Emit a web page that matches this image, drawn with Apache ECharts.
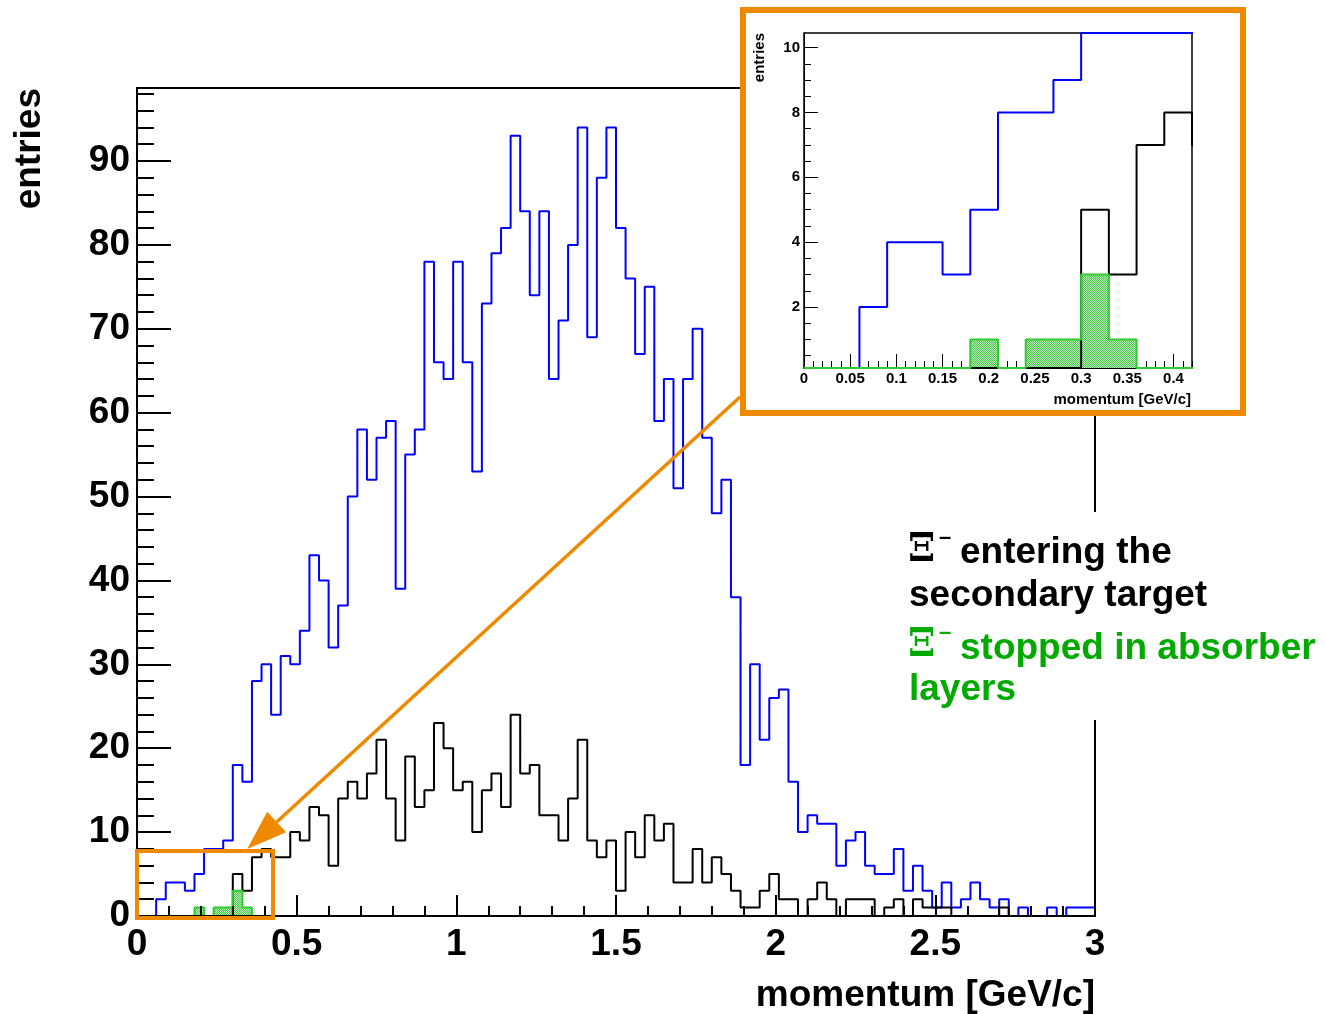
<!DOCTYPE html>
<html>
<head>
<meta charset="utf-8">
<title>Xi- momentum</title>
<script src="https://cdn.jsdelivr.net/npm/echarts@6/dist/echarts.min.js"></script>
<style>
  html, body { margin: 0; padding: 0; background: #ffffff; }
  #chart { width: 1325px; height: 1014px; }
</style>
</head>
<body>
<div id="chart"></div>
<script>
// ---- histogram binning (GeV/c) ----
const BIN_WIDTH = 0.03;
const X_MIN = 0;
const X_MAX = 3;

// ---- counts per 0.03 GeV/c bin, 0 .. 3 GeV/c ----
// all produced Xi- (blue)
const xiAll = [
  0, 0, 2, 4, 4, 3, 5, 8, 8, 9,
  18, 16, 28, 30, 24, 31, 30, 34, 43, 40,
  32, 37, 50, 58, 52, 57, 59, 39, 55, 58,
  78, 66, 64, 78, 66, 53, 73, 79, 82, 93,
  84, 74, 84, 64, 71, 80, 94, 69, 88, 94,
  82, 76, 67, 75, 59, 64, 51, 64, 70, 57,
  48, 52, 38, 18, 30, 21, 26, 27, 16, 10,
  12, 11, 11, 6, 9, 10, 6, 5, 5, 8,
  3, 6, 3, 1, 4, 1, 2, 4, 2, 1,
  2, 0, 1, 0, 0, 1, 0, 1, 1, 1
];
// Xi- entering the secondary target (black)
const xiEntering = [
  0, 0, 0, 0, 0, 0, 0, 0, 0, 0,
  5, 3, 7, 8, 7, 7, 10, 9, 13, 12,
  6, 14, 16, 14, 17, 21, 14, 9, 19, 13,
  15, 23, 20, 15, 16, 10, 15, 17, 13, 24,
  17, 18, 12, 12, 9, 14, 21, 9, 7, 9,
  3, 10, 7, 12, 9, 11, 4, 4, 8, 4,
  7, 5, 3, 1, 1, 3, 5, 2, 2, 0,
  2, 4, 2, 0, 2, 2, 2, 0, 1, 2,
  0, 2, 1, 1, 1, 0, 0, 0, 0, 0,
  1, 0, 0, 0, 0, 0, 0, 0, 0, 0
];
// Xi- stopped in absorber layers (green)
const xiStopped = [
  0, 0, 0, 0, 0, 0, 1, 0, 1, 1,
  3, 1, 0, 0, 0, 0, 0, 0, 0, 0,
  0, 0, 0, 0, 0, 0, 0, 0, 0, 0,
  0, 0, 0, 0, 0, 0, 0, 0, 0, 0,
  0, 0, 0, 0, 0, 0, 0, 0, 0, 0,
  0, 0, 0, 0, 0, 0, 0, 0, 0, 0,
  0, 0, 0, 0, 0, 0, 0, 0, 0, 0,
  0, 0, 0, 0, 0, 0, 0, 0, 0, 0,
  0, 0, 0, 0, 0, 0, 0, 0, 0, 0,
  0, 0, 0, 0, 0, 0, 0, 0, 0, 0
];

// ---- axis ranges and tick labels ----
const MAIN_Y_MAX = 98.7;
const mainXLabels = [0, 0.5, 1, 1.5, 2, 2.5, 3];
const mainYLabels = [0, 10, 20, 30, 40, 50, 60, 70, 80, 90];

const INSET_X_MAX = 0.42;
const INSET_Y_MIN = 0.12;
const INSET_Y_MAX = 10.45;
const insetXLabels = [0, 0.05, 0.1, 0.15, 0.2, 0.25, 0.3, 0.35, 0.4];
const insetYLabels = [2, 4, 6, 8, 10];

// ---- styling ----
const SANS = '"Liberation Sans", Arial, Helvetica, sans-serif';
const SERIF = '"DejaVu Serif", "Liberation Serif", serif';
const ORANGE = '#ef8a00';
const BLUE = '#0000ff';
const BLACK = '#000000';
const GREEN_LINE = '#2ecc2e';
const GREEN_TEXT = '#00aa00';

// minor tick positions (regular subdivisions of each axis)
function steps(from, to, step) {
  const out = [];
  const n = Math.round((to - from) / step);
  for (let i = 0; i <= n; i++) out.push(+(from + i * step).toFixed(4));
  return out;
}
const mainXMinor = steps(0, 3, 0.1);
const mainYMinor = steps(0, 98, 2);
const insetXMinor = steps(0, 0.42, 0.01);
const insetYMinor = steps(0.5, 10, 0.5);

// histogram outline points: one point per bin low edge, closed at X_MAX
function histSteps(counts, lo, hi) {
  const clampV = v => {
    if (lo != null && v < lo) return lo;
    if (hi != null && v > hi) return hi;
    return v;
  };
  const pts = counts.map((v, i) => [+(X_MIN + i * BIN_WIDTH).toFixed(4), clampV(v)]);
  pts.push([X_MAX, pts[pts.length - 1][1]]);
  return pts;
}

// dotted fill used for the green histogram
function dotPattern() {
  const c = document.createElement('canvas');
  c.width = 2; c.height = 2;
  const g = c.getContext('2d');
  g.fillStyle = '#c4ecc4'; g.fillRect(0, 0, 2, 2);
  g.fillStyle = '#46c846'; g.fillRect(0, 0, 1, 1); g.fillRect(1, 1, 1, 1);
  return c;
}
const greenFill = { image: dotPattern(), repeat: 'repeat' };

function stepLine(name, data, color, xi, yi, z, width, extra) {
  return Object.assign({
    type: 'line', name, data,
    xAxisIndex: xi, yAxisIndex: yi,
    step: 'end', symbol: 'none', showSymbol: false,
    lineStyle: { color, width },
    itemStyle: { color },
    clip: true, silent: true, animation: false, z
  }, extra || {});
}

function labelStyle(size, margin) {
  return { color: '#000', fontSize: size, fontWeight: 'bold', fontFamily: SANS, margin };
}

function tickAxis(gridIndex, min, max, position, values, len, width, z, withLine, labels, labelSize, labelMargin) {
  return {
    type: 'value', gridIndex, min, max, position, z,
    axisLine: { show: withLine, onZero: false, lineStyle: { color: '#000', width } },
    axisTick: { show: true, inside: true, length: len, customValues: values, lineStyle: { color: '#000', width } },
    axisLabel: labels
      ? Object.assign({ show: true, customValues: labels }, labelStyle(labelSize, labelMargin))
      : { show: false },
    splitLine: { show: false },
    minorTick: { show: false }
  };
}

const chart = echarts.init(document.getElementById('chart'), null, { renderer: 'canvas' });

const option = {
  animation: false,
  backgroundColor: '#ffffff',
  grid: [
    { left: 137, top: 88, width: 958, height: 828, show: true, borderColor: '#000', borderWidth: 2,
      backgroundColor: 'transparent', containLabel: false, outerBoundsMode: 'none', z: 0 },
    { left: 804, top: 33, width: 388, height: 335, show: true, borderColor: '#000', borderWidth: 1.5,
      backgroundColor: '#ffffff', containLabel: false, outerBoundsMode: 'none', z: 29 }
  ],
  xAxis: [
    tickAxis(0, X_MIN, X_MAX, 'bottom', mainXLabels, 21, 2, 3, true, mainXLabels, 37, 10),
    tickAxis(0, X_MIN, X_MAX, 'bottom', mainXMinor, 10, 2, 3, false, null),
    tickAxis(1, 0, INSET_X_MAX, 'bottom', insetXLabels, 14, 1, 30, true, insetXLabels, 15, 3),
    tickAxis(1, 0, INSET_X_MAX, 'bottom', insetXMinor, 7, 1, 30, false, null)
  ],
  yAxis: [
    tickAxis(0, 0, MAIN_Y_MAX, 'left', mainYLabels, 34, 2, 3, true, mainYLabels, 37, 7),
    tickAxis(0, 0, MAIN_Y_MAX, 'left', mainYMinor, 17, 2, 3, false, null),
    tickAxis(1, INSET_Y_MIN, INSET_Y_MAX, 'left', insetYLabels, 14, 1, 30, true, insetYLabels, 15, 4),
    tickAxis(1, INSET_Y_MIN, INSET_Y_MAX, 'left', insetYMinor, 7, 1, 30, false, null)
  ],
  series: [
    // full range
    stepLine('all', histSteps(xiAll), BLUE, 0, 0, 2, 2),
    stepLine('entering', histSteps(xiEntering), BLACK, 0, 0, 2, 2),
    stepLine('stopped', histSteps(xiStopped), GREEN_LINE, 0, 0, 2, 2,
      { areaStyle: { color: greenFill, opacity: 1 } }),
    // zoom on the low-momentum region
    stepLine('all-zoom', histSteps(xiAll, INSET_Y_MIN, INSET_Y_MAX), BLUE, 2, 2, 31, 2),
    stepLine('entering-zoom', histSteps(xiEntering, INSET_Y_MIN, INSET_Y_MAX), BLACK, 2, 2, 31, 2),
    stepLine('stopped-zoom', histSteps(xiStopped, INSET_Y_MIN, INSET_Y_MAX), GREEN_LINE, 2, 2, 31, 2,
      { areaStyle: { color: greenFill, opacity: 1 } })
  ]
};
chart.setOption(option);

// ---- annotations: zoom frame, arrow, titles, legend ----
function txt(text, x, y, size, color, align, family, extra) {
  return Object.assign({
    type: 'text', x, y, z: 40,
    style: {
      text, fill: color, fontSize: size, fontWeight: 'bold', fontFamily: family || SANS,
      align: align || 'left', verticalAlign: 'middle'
    }
  }, extra || {});
}

// region of the main plot shown enlarged in the inset
const boxTL = chart.convertToPixel({ xAxisIndex: 0, yAxisIndex: 0 }, [0, 7.75]);
const boxBR = chart.convertToPixel({ xAxisIndex: 0, yAxisIndex: 0 }, [0.426, -0.25]);
const arrowTip = [boxTL[0] + 0.81 * (boxBR[0] - boxTL[0]), boxTL[1] - 2];
const arrowStart = [740, 397];
const dx = arrowTip[0] - arrowStart[0], dy = arrowTip[1] - arrowStart[1];
const len = Math.hypot(dx, dy);
const ux = dx / len, uy = dy / len;
const headLen = 40, headHalf = 14;
const base = [arrowTip[0] - headLen * ux, arrowTip[1] - headLen * uy];

const graphic = [
  // enlarged-view panel
  { type: 'rect', z: 25, shape: { x: 743, y: 10, width: 500, height: 403 },
    style: { fill: '#ffffff', stroke: ORANGE, lineWidth: 6 } },
  // legend panel
  { type: 'rect', z: 20, shape: { x: 897, y: 512, width: 428, height: 208 },
    style: { fill: '#ffffff' } },
  // selection box on the main plot
  { type: 'rect', z: 15,
    shape: { x: boxTL[0], y: boxTL[1], width: boxBR[0] - boxTL[0], height: boxBR[1] - boxTL[1] },
    style: { fill: 'none', stroke: ORANGE, lineWidth: 4 } },
  // arrow
  { type: 'line', z: 15,
    shape: { x1: arrowStart[0], y1: arrowStart[1], x2: base[0], y2: base[1] },
    style: { stroke: ORANGE, lineWidth: 3.5 } },
  { type: 'polygon', z: 15,
    shape: { points: [
      arrowTip,
      [base[0] - headHalf * uy, base[1] + headHalf * ux],
      [base[0] + headHalf * uy, base[1] - headHalf * ux]
    ] },
    style: { fill: ORANGE } },

  // axis titles, main plot
  txt('entries', 30, 88, 37, '#000', 'right', SANS, { rotation: Math.PI / 2 }),
  txt('momentum [GeV/c]', 1095, 996, 37, '#000', 'right'),
  // axis titles, enlarged view
  txt('entries', 760, 33, 15, '#000', 'right', SANS, { rotation: Math.PI / 2 }),
  txt('momentum [GeV/c]', 1191, 400, 15, '#000', 'right'),

  // legend
  txt('\u039E', 908, 551, 39, '#000', 'left', SERIF),
  txt('\u2013', 939, 538, 22, '#000', 'left'),
  txt('entering the', 960, 553, 37, '#000', 'left'),
  txt('secondary target', 909, 596, 37, '#000', 'left'),
  txt('\u039E', 908, 646, 39, GREEN_TEXT, 'left', SERIF),
  txt('\u2013', 939, 633, 22, GREEN_TEXT, 'left'),
  txt('stopped in absorber', 960, 649, 37, GREEN_TEXT, 'left'),
  txt('layers', 909, 690, 37, GREEN_TEXT, 'left')
];
chart.setOption({ graphic });
</script>
</body>
</html>
